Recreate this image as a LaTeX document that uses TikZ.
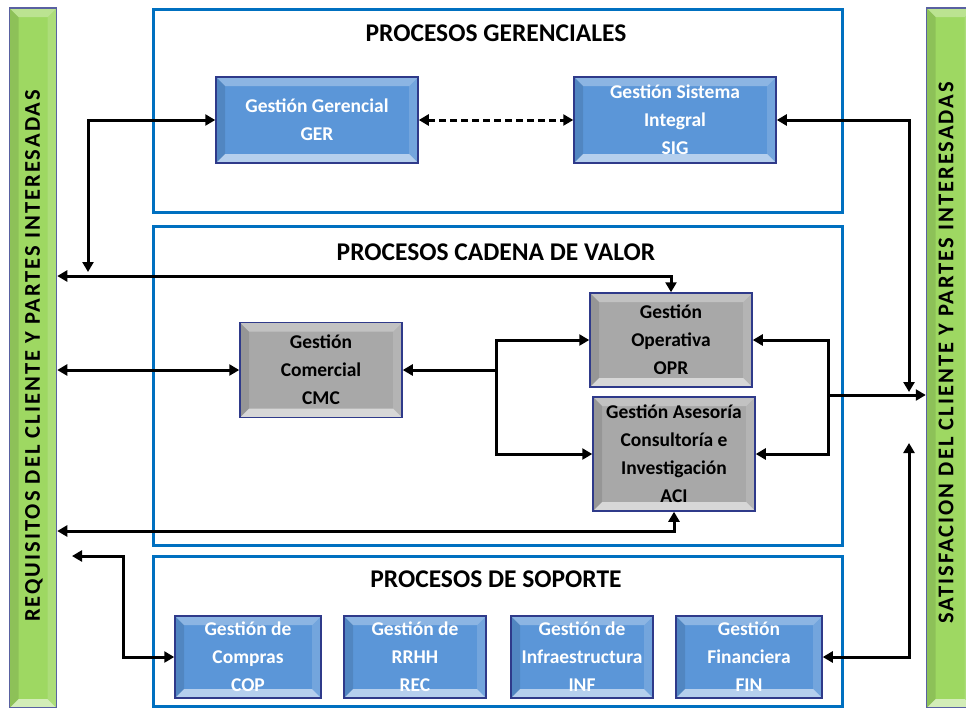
\documentclass[tikz,border=0pt]{standalone}
\usepackage{fontspec}
\setmainfont{Carlito}
\newfontfamily\barfont[LetterSpace=9]{Carlito}
\usepackage{xcolor}
\usetikzlibrary{arrows.meta,positioning}

\definecolor{frameblue}{HTML}{0070C0}
\definecolor{boxblue}{HTML}{5B96D8}
\definecolor{boxgray}{HTML}{A8A8A8}
\definecolor{barGreen}{HTML}{9ED862}
\definecolor{navy}{HTML}{2F3A8A}

\tikzset{
  bevel/.style={path picture={
      \path (path picture bounding box.north west) coordinate (bvnw)
            (path picture bounding box.south east) coordinate (bvse)
            (bvnw -| bvse) coordinate (bvne)
            (bvnw |- bvse) coordinate (bvsw);
      \fill[white,opacity=.30] (bvnw) -- (bvne) -- ([shift={(-9pt,-9pt)}]bvne) -- ([shift={(9pt,-9pt)}]bvnw) -- cycle;
      \fill[white,opacity=.55] (bvsw) -- (bvse) -- ([shift={(-9pt,9pt)}]bvse) -- ([shift={(9pt,9pt)}]bvsw) -- cycle;
      \fill[black,opacity=.10] (bvnw) -- (bvsw) -- ([shift={(9pt,9pt)}]bvsw) -- ([shift={(9pt,-9pt)}]bvnw) -- cycle;
      \fill[white,opacity=.15] (bvne) -- (bvse) -- ([shift={(-9pt,9pt)}]bvse) -- ([shift={(-9pt,-9pt)}]bvne) -- cycle;
  }},
  bluebox/.style={draw=navy,line width=1.5pt,fill=boxblue,bevel,align=center,text=white,font=\bfseries\fontsize{19.5}{28}\selectfont,inner sep=0pt},
  graybox/.style={draw=navy,line width=1.5pt,fill=boxgray,bevel,align=center,text=black,font=\bfseries\fontsize{19.5}{28}\selectfont,inner sep=0pt},
  sidebar/.style={draw=navy!80,line width=1.5pt,fill=barGreen,bevel,minimum width=47pt,minimum height=700pt,inner sep=0pt},
  frame/.style={draw=frameblue,line width=3pt,anchor=north west,inner sep=0pt},
  title/.style={font=\bfseries\fontsize{25.5}{30}\selectfont},
  bartext/.style={rotate=90,font=\barfont\bfseries\fontsize{22.5}{25}\selectfont},
  conn/.style={line width=3pt,-{Triangle[length=10pt,width=11pt]}},
  conn2/.style={line width=3pt,{Triangle[length=10pt,width=11pt]}-{Triangle[length=10pt,width=11pt]}}
}

\begin{document}
\begin{tikzpicture}[x=1pt,y=-1pt]
    \useasboundingbox (0,0) rectangle (966,707);

    % side bars
    \node[sidebar] at (33,358) (req) {};
    \node[bartext] at (34,356) {REQUISITOS DEL CLIENTE Y PARTES INTERESADAS};
    \node[sidebar] at (950,358) (sat) {};
    \node[bartext] at (946,353) {SATISFACION DEL CLIENTE Y PARTES INTERESADAS};

    % process frames
    \node[frame,minimum width=689pt,minimum height=203pt] at (152,8) (fger) {};
    \node[frame,minimum width=689pt,minimum height=319pt] at (152,225) (fcad) {};
    \node[frame,minimum width=689pt,minimum height=150pt] at (152,555) (fsop) {};
    \node[title] at (496,33) {PROCESOS GERENCIALES};
    \node[title] at (496,252) {PROCESOS CADENA DE VALOR};
    \node[title] at (496,579) {PROCESOS DE SOPORTE};

    % gerenciales
    \node[bluebox,minimum width=202pt,minimum height=86pt] at (317,120) (ger) {Gestión Gerencial\\GER};
    \node[bluebox,minimum width=202pt,minimum height=86pt] at (675,120) (sig) {Gestión Sistema\\Integral\\SIG};

    % cadena de valor
    \node[graybox,minimum width=162pt,minimum height=95pt] at (321,370) (cmc) {Gestión\\Comercial\\CMC};
    \node[graybox,minimum width=162pt,minimum height=94pt] at (671,340) (opr) {Gestión\\Operativa\\OPR};
    \node[graybox,minimum width=162pt,minimum height=114pt] at (674,454) (aci) {Gestión Asesoría\\Consultoría e\\Investigación\\ACI};

    % soporte
    \node[bluebox,minimum width=146pt,minimum height=82pt] at (248,657) (cop) {Gestión de\\Compras\\COP};
    \node[bluebox,minimum width=142pt,minimum height=82pt] at (415,657) (rec) {Gestión de\\RRHH\\REC};
    \node[bluebox,minimum width=142pt,minimum height=82pt] at (582,657) (inf) {Gestión de\\Infraestructura\\INF};
    \node[bluebox,minimum width=146pt,minimum height=82pt] at (749,657) (fin) {Gestión\\Financiera\\FIN};

    % junctions
    \coordinate (j1) at (88,272);
    \coordinate (h1) at (88,276);
    \coordinate (sl) at (496,370);
    \coordinate (sr) at (828,395);
    \coordinate (j2) at (909,392);
    \coordinate (j3) at (909,443);
    \coordinate (h2) at (675,531);
    \coordinate (j4) at (72,556);

    % connectors
    \draw[conn2,dash pattern=on 7pt off 4pt] (ger) -- (sig);
    \draw[conn2] (ger.west) -| (j1);
    \draw[conn2] (req.east |- h1) -| (opr.north);
    \draw[conn2] (req.east |- cmc) -- (cmc.west);
    \draw[conn] (sl) -- (cmc.east);
    \draw[conn] (sl) |- (opr.west);
    \draw[conn] (sl) |- (aci.west);
    \draw[conn] (sr) |- (opr.east);
    \draw[conn] (sr) |- (aci.east);
    \draw[conn] (sr) -- (sr -| sat.west);
    \draw[conn2] (sig.east) -| (j2);
    \draw[conn2] (fin.east) -| (j3);
    \draw[conn2] (req.east |- h2) -| (aci.south);
    \draw[conn2] (j4) -- (123,556) |- (cop.west);
\end{tikzpicture}
\end{document}
